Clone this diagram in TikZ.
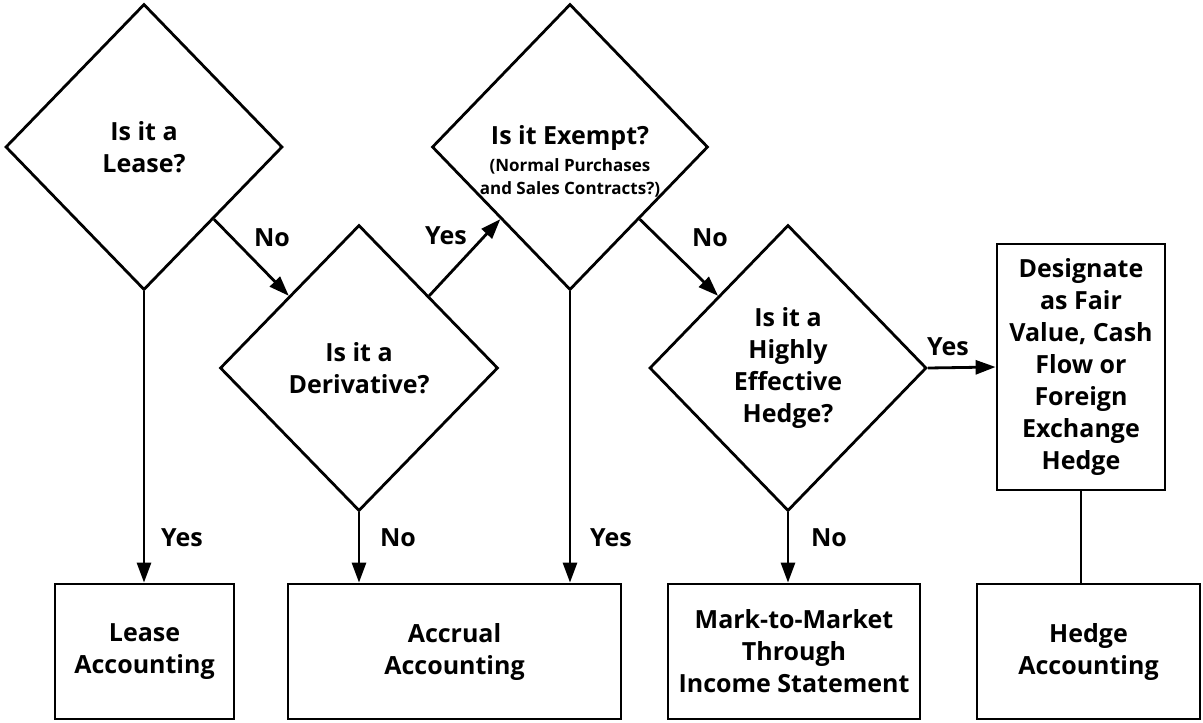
\documentclass[tikz,border=0pt]{standalone}
\usepackage{fontspec}
\setmainfont{Open Sans}
\usetikzlibrary{shapes.geometric,arrows.meta}
\newcommand{\smallq}{\fontsize{17}{21}\selectfont}
\begin{document}
\begin{tikzpicture}[x=1pt,y=-1pt,
  every node/.style={font=\bfseries\fontsize{25}{32}\selectfont, align=center},
  dia/.style={diamond, draw, line width=2.8pt, inner sep=0pt, aspect=1, minimum width=#1, minimum height=286pt},
  dia/.default=277pt,
  boxnode/.style={rectangle, draw, line width=2.8pt, inner sep=0pt},
  conn/.style={line width=2.8pt},
  arr/.style={conn, -{Triangle[length=20pt,width=14pt]}},
  lbl/.style={inner sep=0pt}
]
\useasboundingbox (0,0) rectangle (1203,723);

% decisions
\node[dia] (d1) at (144,147) {Is it a\\Lease?};
\node[dia=278pt] (d2) at (359,368) {Is it a\\Derivative?};
\node[dia=276pt] (d3) at (570,147) {};
\node[lbl] (d3t) at (570,161) {Is it Exempt?\\[-5pt]\smallq (Normal Purchases\\[-9pt]\smallq and Sales Contracts?)};
\node[dia] (d4) at (788,368) {Is it a\\Highly\\Effective\\Hedge?};

% boxes
\node[boxnode, minimum width=179pt, minimum height=135pt] (b1) at (144.5,651.5) {Lease\\Accounting};
\node[boxnode, minimum width=333pt, minimum height=135pt] (b2) at (454.5,651.5) {Accrual\\Accounting};
\node[boxnode, minimum width=252pt, minimum height=135pt] (b3) at (794,651.5) {Mark-to-Market\\Through\\Income Statement};
\node[boxnode, minimum width=223pt, minimum height=135pt] (b4) at (1088.5,651.5) {Hedge\\Accounting};
\node[boxnode, minimum width=168pt, minimum height=246pt] (b5) at (1081,367) {Designate\\as Fair\\Value, Cash\\Flow or\\Foreign\\Exchange\\Hedge};

% connectors
\draw[arr] (d1.south) -- (d1.south |- b1.north);
\draw[arr] (d2.south) -- (d2.south |- b2.north);
\draw[arr] (d3.south) -- (d3.south |- b2.north);
\draw[arr] (d4.south) -- (d4.south |- b3.north);
\draw[arr] (d1.south east) -- (d2.north west);
\draw[arr] (d2.north east) -- (d3.south west);
\draw[arr] (d3.south east) -- (d4.north west);
\draw[arr] (d4.east) -- (b5.west);
\draw[conn] (b5.south) -- (b5.south |- b4.north);

% labels
\node[lbl] (l1) at (272,238) {No};
\node[lbl] (l2) at (446,236) {Yes};
\node[lbl] (l3) at (710,238) {No};
\node[lbl] (l4) at (948,347) {Yes};
\node[lbl] (l5) at (182,538) {Yes};
\node[lbl] (l6) at (398,538) {No};
\node[lbl] (l7) at (611,538) {Yes};
\node[lbl] (l8) at (829,538) {No};
\end{tikzpicture}
\end{document}
